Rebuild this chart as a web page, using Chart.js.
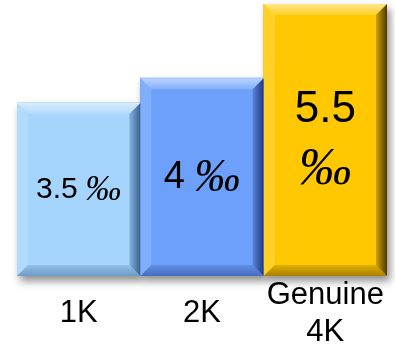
<!DOCTYPE html>
<html>
<head>
<meta charset="utf-8">
<script src="https://cdn.jsdelivr.net/npm/chart.js@4.4.1/dist/chart.umd.min.js"></script>
<style>
    html, body { margin: 0; padding: 0; background: #fff; }
    #wrap { width: 395px; height: 347px; position: relative; }
</style>
</head>
<body>
<div id="wrap"><canvas id="rate-chart"></canvas></div>
<script>
// Resolution categories and their rates (per mille)
const categories = [['1K'], ['2K'], ['Genuine', '4K']];
const rates = [3.5, 4, 5.5];
const rateUnit = '‰';

const faceColors = ['#a5d4fc', '#6ca0fa', '#ffc800'];
// rgb triples used for the darker bevel edges
const edgeShades = ['45,85,135', '25,45,115', '60,40,0'];

const quad = (ctx, pts, fill) => {
    ctx.beginPath();
    ctx.moveTo(pts[0][0], pts[0][1]);
    for (let i = 1; i < pts.length; i++) ctx.lineTo(pts[i][0], pts[i][1]);
    ctx.closePath();
    ctx.fillStyle = fill;
    ctx.fill();
};

// Drop shadow behind the bars plus a bevelled frame on top of them
const bevelPlugin = {
    id: 'bevel',
    beforeDatasetsDraw(chart) {
        const ctx = chart.ctx;
        ctx.save();
        ctx.shadowColor = 'rgba(0,0,0,0.45)';
        ctx.shadowBlur = 8;
        ctx.shadowOffsetX = 3;
        ctx.shadowOffsetY = 5;
        ctx.fillStyle = '#888';
        chart.getDatasetMeta(0).data.forEach(bar => {
            ctx.fillRect(bar.x - bar.width / 2, bar.y, bar.width, bar.base - bar.y);
        });
        ctx.restore();
    },
    afterDatasetsDraw(chart, args, opts) {
        const ctx = chart.ctx;
        const s = opts.size;
        ctx.save();
        chart.getDatasetMeta(0).data.forEach((bar, i) => {
            const l = bar.x - bar.width / 2, r = bar.x + bar.width / 2;
            const t = bar.y, b = bar.base;
            const shade = edgeShades[i];

            let g = ctx.createLinearGradient(0, t, 0, t + s);
            g.addColorStop(0, 'rgba(255,255,255,0.55)');
            g.addColorStop(1, 'rgba(255,255,255,0.15)');
            quad(ctx, [[l, t], [r, t], [r - s, t + s], [l + s, t + s]], g);

            quad(ctx, [[l, t], [l + s, t + s], [l + s, b - s], [l, b]], 'rgba(255,255,255,0.15)');

            g = ctx.createLinearGradient(r - s, 0, r, 0);
            g.addColorStop(0, `rgba(${shade},0.25)`);
            g.addColorStop(1, `rgba(${shade},0.9)`);
            quad(ctx, [[r, t], [r, b], [r - s, b - s], [r - s, t + s]], g);

            g = ctx.createLinearGradient(0, b - s, 0, b);
            g.addColorStop(0, `rgba(${shade},0.15)`);
            g.addColorStop(1, `rgba(${shade},0.45)`);
            quad(ctx, [[l, b], [r, b], [r - s, b - s], [l + s, b - s]], g);
        });
        ctx.restore();
    },
};

// Value + per-mille sign centred in each bar, wrapped when it won't fit
const valueLabelPlugin = {
    id: 'valueLabels',
    afterDatasetsDraw(chart, args, opts) {
        const ctx = chart.ctx;
        const values = chart.data.datasets[0].data;
        ctx.save();
        ctx.fillStyle = '#000';
        ctx.textBaseline = 'middle';
        chart.getDatasetMeta(0).data.forEach((bar, i) => {
            const size = opts.sizes[i];
            const text = String(values[i]);
            const numFont = `${size}px "Liberation Sans", Arial, sans-serif`;
            const unitFont = `italic ${Math.round(size * 1.2)}px "Liberation Serif", serif`;
            ctx.font = numFont;
            const nw = ctx.measureText(text).width;
            ctx.font = unitFont;
            const uw = ctx.measureText(rateUnit).width;
            const gap = size * 0.25;
            const cy = (bar.y + bar.base) / 2;

            if (nw + gap + uw <= bar.width - 2 * opts.inset) {
                const x0 = bar.x - (nw + gap + uw) / 2;
                ctx.textAlign = 'left';
                ctx.font = numFont;
                ctx.fillText(text, x0, cy);
                ctx.font = unitFont;
                ctx.fillText(rateUnit, x0 + nw + gap, cy + size * 0.05);
            } else {
                const lh = size * 1.36;
                ctx.textAlign = 'center';
                ctx.font = numFont;
                ctx.fillText(text, bar.x, cy - lh / 2);
                ctx.font = unitFont;
                ctx.fillText(rateUnit, bar.x, cy + lh / 2);
            }
        });
        ctx.restore();
    },
};

new Chart(document.getElementById('rate-chart'), {
    type: 'bar',
    data: {
        labels: categories,
        datasets: [{
            data: rates,
            backgroundColor: faceColors,
            borderWidth: 0,
            barPercentage: 1,
            categoryPercentage: 1,
        }],
    },
    options: {
        responsive: true,
        maintainAspectRatio: false,
        animation: false,
        layout: { padding: { left: 17, right: 8, top: 4, bottom: 0 } },
        plugins: {
            legend: { display: false },
            tooltip: { enabled: false },
            bevel: { size: 11 },
            valueLabels: { sizes: [30, 38, 44], inset: 8 },
        },
        scales: {
            x: {
                grid: { display: false, drawTicks: false },
                border: { display: false },
                ticks: {
                    color: '#000',
                    font: { family: '"Liberation Sans", Arial, sans-serif', size: 31, lineHeight: 1.2 },
                    padding: 19,
                    crossAlign: 'center',
                    maxRotation: 0,
                    autoSkip: false,
                },
                afterFit(scale) {
                    // labels may hang past the plot edge; keep the bars full width
                    scale.height = 71;
                    scale.paddingLeft = 0;
                    scale.paddingRight = 0;
                },
            },
            y: { display: false, min: 0, max: 5.5 },
        },
    },
    plugins: [bevelPlugin, valueLabelPlugin],
});
</script>
</body>
</html>
